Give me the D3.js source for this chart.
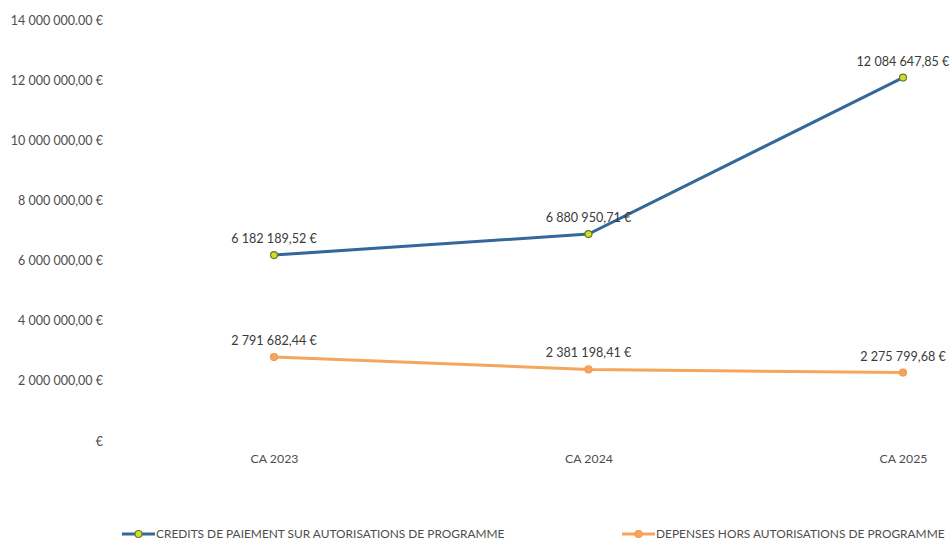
<!DOCTYPE html>
<html>
<head>
<meta charset="utf-8">
<script src="https://cdn.jsdelivr.net/npm/d3@7"></script>
<style>
  body { margin: 0; background: #fff; }
  svg text { font-family: Lato, "Open Sans", sans-serif; }
</style>
</head>
<body>
<div id="canvas"></div>
<script>
// data
var categories = ["CA 2023", "CA 2024", "CA 2025"];
var creditsValues = [6182189.52, 6880950.71, 12084647.85];
var depensesValues = [2791682.44, 2381198.41, 2275799.68];
var creditsLabels = ["6 182 189,52 €", "6 880 950,71 €", "12 084 647,85 €"];
var depensesLabels = ["2 791 682,44 €", "2 381 198,41 €", "2 275 799,68 €"];
var yTicks = [0, 2000000, 4000000, 6000000, 8000000, 10000000, 12000000, 14000000];
var yTickLabels = ["€", "2 000 000,00 €", "4 000 000,00 €", "6 000 000,00 €", "8 000 000,00 €",
  "10 000 000,00 €", "12 000 000,00 €", "14 000 000.00 €"];
var seriesNames = ["CREDITS DE PAIEMENT SUR AUTORISATIONS DE PROGRAMME", "DEPENSES HORS AUTORISATIONS DE PROGRAMME"];

var W = 949, H = 540;
var svg = d3.select('#canvas').append('svg')
  .attr('width', W)
  .attr('height', H);

var x = d3.scalePoint().domain(categories).range([274, 903]);
var y = d3.scaleLinear().domain([0, 14000000]).range([441, 20]);

// y axis, no line, just labels
var yAxis = d3.axisLeft(y).tickValues(yTicks)
  .tickSize(0).tickPadding(0)
  .tickFormat(function(d, i) { return yTickLabels[i]; });
var gy = svg.append('g').attr('transform', 'translate(103,0)').call(yAxis);
gy.select('.domain').remove();
gy.selectAll('text').attr('fill', '#4d4d4d').style('font-size', '12.5px')
  .style('font-family', 'Lato, "Open Sans", sans-serif');

// x axis labels
var xAxis = d3.axisBottom(x).tickSize(0).tickPadding(0);
var gx = svg.append('g').attr('transform', 'translate(0,454)').call(xAxis);
gx.select('.domain').remove();
gx.selectAll('text').attr('fill', '#4d4d4d').style('font-size', '12.3px')
  .style('font-family', 'Lato, "Open Sans", sans-serif');

var series = [
  {name: seriesNames[0], values: creditsValues, labels: creditsLabels, color: '#35689a', fill: '#cddc39', stroke: '#6b7a1a', legendX: 122},
  {name: seriesNames[1], values: depensesValues, labels: depensesLabels, color: '#f6a55e', fill: '#f6a55e', stroke: '#f39a4d', legendX: 622}
];

var line = d3.line()
  .x(function(d, i) { return x(categories[i]); })
  .y(function(d) { return y(d); });

series.forEach(function(s) {
  svg.append('path')
    .attr('d', line(s.values))
    .attr('fill', 'none')
    .attr('stroke', s.color)
    .attr('stroke-width', 3);

  svg.selectAll(null).data(s.values).enter().append('circle')
    .attr('cx', function(d, i) { return x(categories[i]); })
    .attr('cy', function(d) { return y(d); })
    .attr('r', 3.5)
    .attr('fill', s.fill)
    .attr('stroke', s.stroke)
    .attr('stroke-width', 1.2);

  svg.selectAll(null).data(s.values).enter().append('text')
    .attr('x', function(d, i) { return x(categories[i]); })
    .attr('y', function(d) { return y(d) - 12; })
    .attr('text-anchor', 'middle')
    .attr('fill', '#3a3a3a')
    .style('font-size', '12.6px')
    .text(function(d, i) { return s.labels[i]; });

  // legend
  var lg = svg.append('g').attr('transform', 'translate(' + s.legendX + ',534)');
  lg.append('line').attr('x1', 0).attr('x2', 33).attr('y1', 0).attr('y2', 0)
    .attr('stroke', s.color).attr('stroke-width', 3);
  lg.append('circle').attr('cx', 16.5).attr('cy', 0).attr('r', 3.5)
    .attr('fill', s.fill).attr('stroke', s.stroke).attr('stroke-width', 1.2);
  lg.append('text').attr('x', 34).attr('y', 4)
    .attr('fill', '#4d4d4d').style('font-size', '11.9px')
    .text(s.name);
});
</script>
</body>
</html>
